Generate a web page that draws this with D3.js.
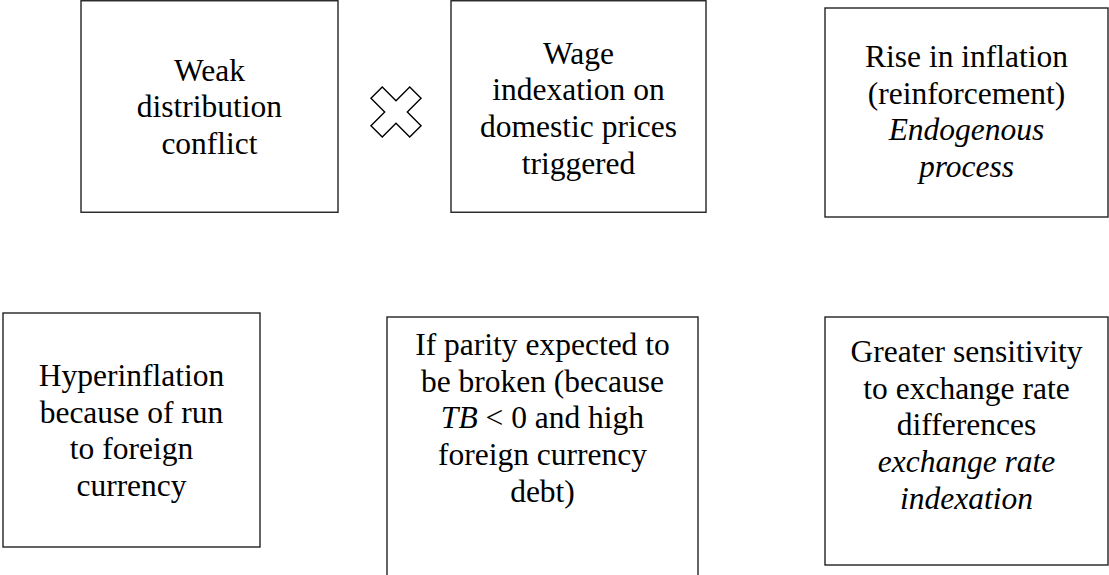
<!DOCTYPE html>
<html>
<head>
<meta charset="utf-8">
<script src="https://cdn.jsdelivr.net/npm/d3@7"></script>
<style>
  html, body { margin: 0; padding: 0; background: #fff; }
  svg { display: block; }
</style>
</head>
<body>
<svg width="1109" height="575"></svg>
<script>
// box labels, one array per box; _text_ = italic
const weakConflict = ['Weak', 'distribution', 'conflict'];
const wageIndexation = ['Wage', 'indexation on', 'domestic prices', 'triggered'];
const riseInflation = ['Rise in inflation', '(reinforcement)', '_Endogenous_', '_process_'];
const hyperinflation = ['Hyperinflation', 'because of run', 'to foreign', 'currency'];
const parityBroken = ['If parity expected to', 'be broken (because', '_TB_ < 0 and high', 'foreign currency', 'debt)'];
const sensitivity = ['Greater sensitivity', 'to exchange rate', 'differences', '_exchange rate_', '_indexation_'];

const labels = [weakConflict, wageIndexation, riseInflation, hyperinflation, parityBroken, sensitivity];

// box geometry (x, y, w, h, first baseline offset)
const boxes = [
  { x: 81, y: 0.75, w: 257, h: 211.5, base: 80 },
  { x: 451, y: 0.75, w: 255, h: 211.5, base: 63 },
  { x: 825, y: 8, w: 283, h: 209, base: 59 },
  { x: 3, y: 313, w: 257, h: 234, base: 73 },
  { x: 387, y: 317, w: 311, h: 300, base: 38 },
  { x: 825, y: 317, w: 283, h: 248, base: 45 }
];

const lineHeight = 36.7;

const svg = d3.select('svg');

const g = svg.selectAll('g.box').data(boxes)
  .enter().append('g')
    .attr('class', 'box')
    .attr('transform', d => `translate(${d.x}, ${d.y})`);

g.append('rect')
  .attr('width', d => d.w)
  .attr('height', d => d.h)
  .attr('fill', '#fff')
  .attr('stroke', '#222')
  .attr('stroke-width', 1.4);

const splitLine = line => line.split('_').map((t, i) => ({ t, it: i % 2 === 1 })).filter(s => s.t.length);

g.each(function (d, i) {
  const text = d3.select(this).append('text')
    .style('font-family', '"Liberation Serif"')
    .style('font-size', '31.5px')
    .attr('fill', '#000')
    .attr('text-anchor', 'middle');

  labels[i].forEach((line, j) => {
    const row = text.append('tspan')
      .attr('x', d.w / 2)
      .attr('y', d.base + j * lineHeight);
    splitLine(line).forEach(seg => {
      row.append('tspan')
        .style('font-style', seg.it ? 'italic' : 'normal')
        .text(seg.t);
    });
  });
});

// the "x" between the first two boxes: a plus sign turned 45 degrees
const cx = 396, cy = 112, arm = 8, len = 27.4;
const plus = [
  [-arm, -len], [arm, -len], [arm, -arm], [len, -arm], [len, arm], [arm, arm],
  [arm, len], [-arm, len], [-arm, arm], [-len, arm], [-len, -arm], [-arm, -arm]
];
const rot = Math.PI / 4;
const crossPts = plus.map(([px, py]) => [
  cx + px * Math.cos(rot) - py * Math.sin(rot),
  cy + px * Math.sin(rot) + py * Math.cos(rot)
]);

svg.append('path')
  .attr('d', d3.line()(crossPts) + 'Z')
  .attr('fill', '#fff')
  .attr('stroke', '#000')
  .attr('stroke-width', 1.4)
  .attr('stroke-linejoin', 'miter');
</script>
</body>
</html>
